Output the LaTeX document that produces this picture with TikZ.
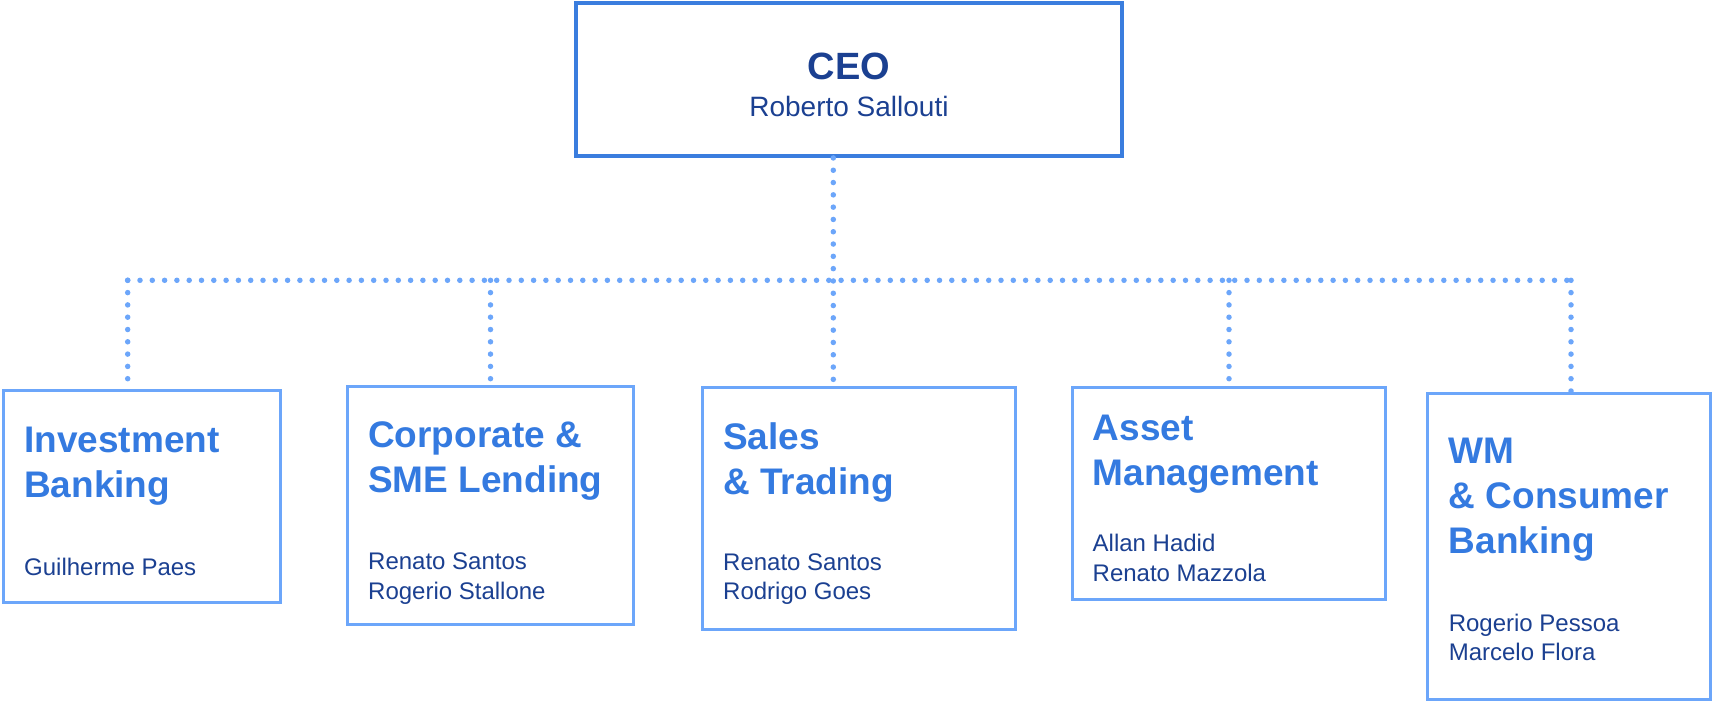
\documentclass[tikz,border=0pt]{standalone}
\usepackage{fontspec}
\setmainfont{Liberation Sans}
\usepackage{tikz}
\usetikzlibrary{calc}

\definecolor{ceoblue}{RGB}{58,125,222}
\definecolor{unitblue}{RGB}{108,166,250}
\definecolor{headblue}{RGB}{52,122,224}
\definecolor{nameblue}{RGB}{27,64,145}

\begin{document}
\begin{tikzpicture}[x=1pt, y=-1pt, line join=miter,
    ceobox/.style={draw=ceoblue, line width=3.5pt, inner sep=0pt},
    unitbox/.style={draw=unitblue, line width=3pt, inner sep=0pt},
    head/.style={anchor=west, align=left, inner sep=0pt, text=headblue,
        font=\fontsize{37}{45}\selectfont\bfseries},
    names/.style={anchor=west, align=left, inner sep=0pt, text=nameblue,
        font=\fontsize{24}{29.5}\selectfont},
    link/.style={draw=unitblue, line width=5.5pt, line cap=round,
        dash pattern=on 0pt off 12.3pt}]

                \useasboundingbox (0,0) rectangle (1713,701);

                % Top box
                \node[ceobox, minimum width=546pt, minimum height=153pt] (ceo) at (849,79.7) {};
                \node[inner sep=0pt, text=nameblue, font=\fontsize{38}{40}\selectfont\bfseries] (ceohead) at (849,66) {CEO};
                \node[inner sep=0pt, text=nameblue, font=\fontsize{28}{30}\selectfont] (ceoname) at (849,106.5) {Roberto Sallouti};

                % Business units
                \node[unitbox, minimum width=277.5pt, minimum height=212pt] (ib) at (142,496) {};
                \node[unitbox, minimum width=286.3pt, minimum height=238.2pt] (corp) at (490.5,505.8) {};
                \node[unitbox, minimum width=313.5pt, minimum height=241.5pt] (sales) at (859.2,508.5) {};
                \node[unitbox, minimum width=312.5pt, minimum height=212pt] (asset) at (1229,493.8) {};
                \node[unitbox, minimum width=282.9pt, minimum height=306pt] (wm) at (1569.4,546.2) {};

                % Unit titles and heads
                \node[head] (ibhead) at (24,466.5) {Investment\\Banking};
                \node[names] (ibnames) at (24,567) {Guilherme Paes};
                \node[head] (corphead) at (368,460.5) {Corporate \&\\SME Lending};
                \node[names] (corpnames) at (368,578.5) {Renato Santos\\Rogerio Stallone};
                \node[head] (saleshead) at (723,462.5) {Sales\\\& Trading};
                \node[names] (salesnames) at (723,579) {Renato Santos\\Rodrigo Goes};
                \node[head] (assethead) at (1092.5,454.5) {Asset\\Management};
                \node[names] (assetnames) at (1092.5,558) {Allan Hadid\\Renato Mazzola};
                \node[head] (wmhead) at (1448.6,499.5) {WM\\\& Consumer\\Banking};
                \node[names] (wmnames) at (1448.6,637.5) {Rogerio Pessoa\\Marcelo Flora};

                % Dotted reporting lines
                \coordinate (busL) at (127.7,280.3);
                \coordinate (busR) at (1571,280.3);
                \coordinate (drop) at (833.3,280.3);
                \draw[link] (busL) -- (busR);
                \draw[link] (ceo.south -| drop) -- (sales.north -| drop);
                \draw[link] (busL) -- (busL |- ib.north);
                \draw[link] (busR) -- (busR |- wm.north);
                \foreach \u in {corp,asset}{
                    \draw[link] (\u.north |- busL) -- (\u.north);
                }

            \end{tikzpicture}
\end{document}
